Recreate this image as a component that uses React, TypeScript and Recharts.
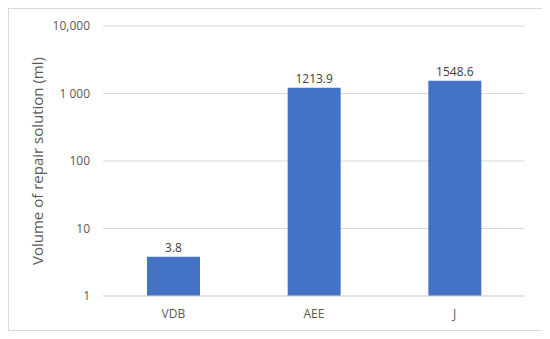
import React from "react";
import { BarChart, Bar, XAxis, YAxis, CartesianGrid, LabelList } from "recharts";

const categories = ["VDB", "AEE", "J"];
const volumes = [3.8, 1213.9, 1548.6];
const yTicks = [1, 10, 100, 1000, 10000];
const yTickLabels = ["1", "10", "100", "1 000", "10,000"];

const data = categories.map((c, i) => ({ name: c, value: volumes[i] }));

const fontFamily = "'Open Sans', sans-serif";

export default function App() {
  return (
    <div
      style={{
        width: 533,
        height: 321,
        border: "1px solid #d9d9d9",
        background: "#fff",
      }}
    >
      <BarChart
        width={533}
        height={321}
        data={data}
        margin={{ top: 17, right: 17, bottom: 4, left: 0 }}
        barSize={53}
      >
        <CartesianGrid vertical={false} stroke="#d9d9d9" />
        <XAxis
          dataKey="name"
          height={30}
          axisLine={{ stroke: "#d9d9d9" }}
          tickLine={false}
          tickSize={6}
          tickMargin={7}
          tick={{ fill: "#595959", fontSize: 12, fontFamily }}
        />
        <YAxis
          scale="log"
          domain={[1, 10000]}
          ticks={yTicks}
          allowDataOverflow
          width={94}
          axisLine={false}
          tickLine={false}
          tickSize={6}
          tickMargin={7}
          tickFormatter={(v: number) => yTickLabels[yTicks.indexOf(v)] ?? String(v)}
          tick={{ fill: "#595959", fontSize: 12, fontFamily }}
          label={{
            value: "Volume of repair solution (ml)",
            angle: -90,
            position: "insideLeft",
            dx: 24,
            dy: 0,
            style: { textAnchor: "middle", fill: "#595959", fontSize: 15, fontFamily },
          }}
        />
        <Bar dataKey="value" fill="#4472C4" isAnimationActive={false}>
          <LabelList
            dataKey="value"
            position="top"
            formatter={(v: number) => v.toFixed(1)}
            style={{ fill: "#404040", fontSize: 12, fontFamily }}
          />
        </Bar>
      </BarChart>
    </div>
  );
}
